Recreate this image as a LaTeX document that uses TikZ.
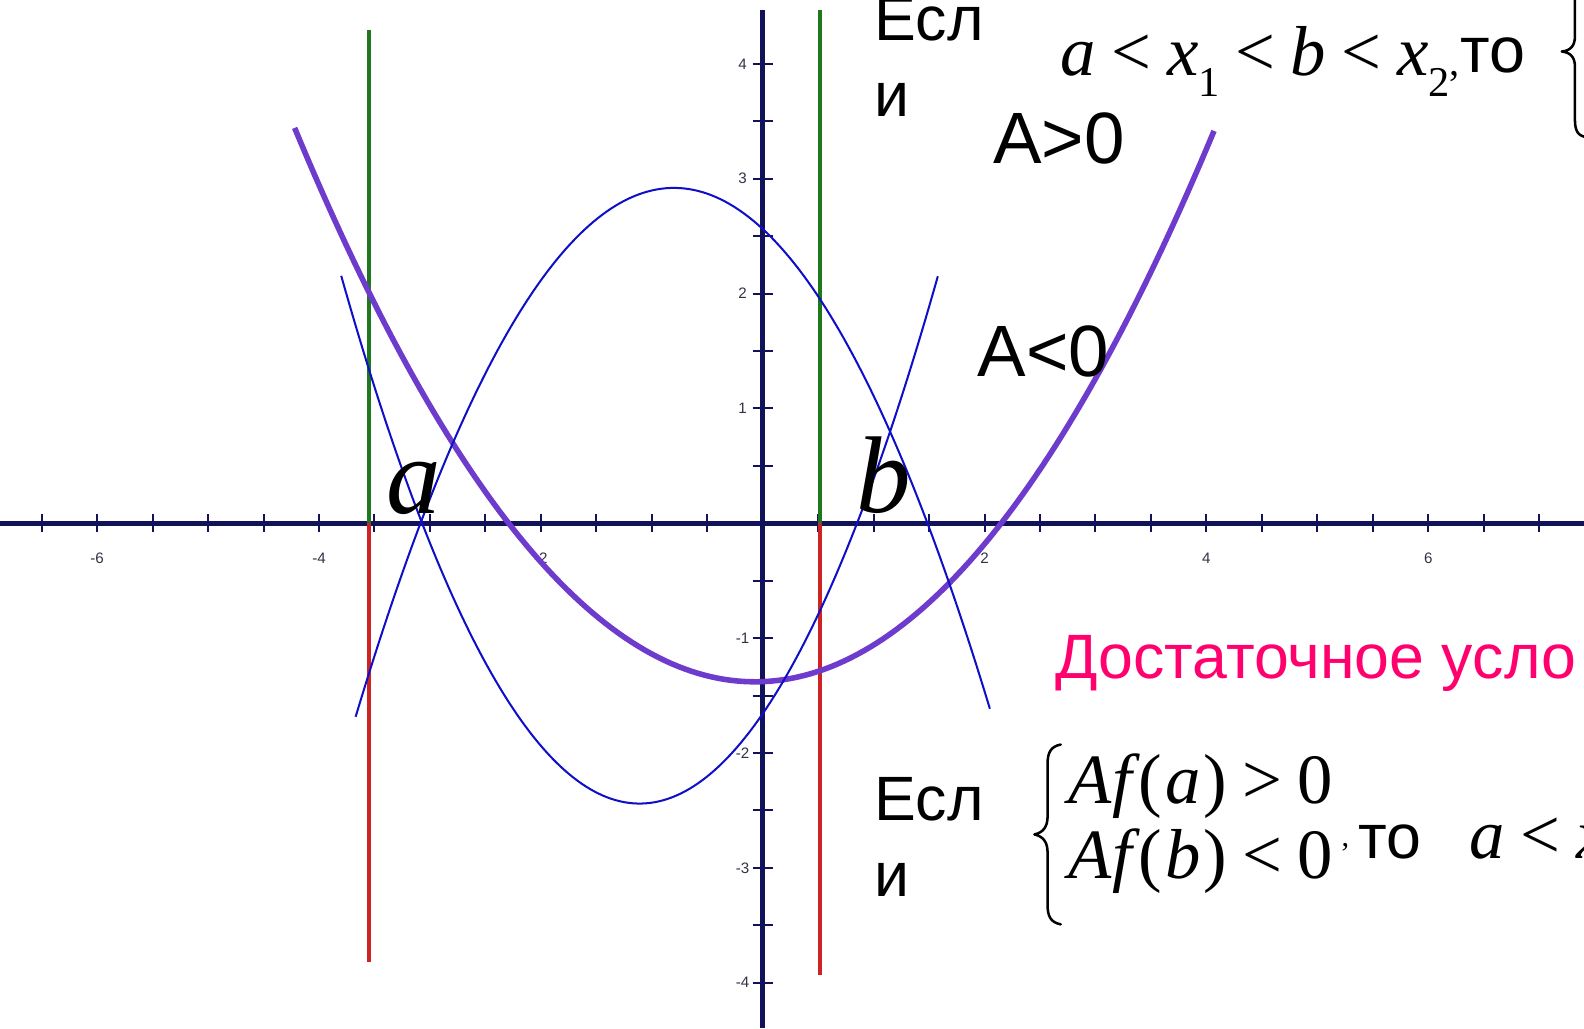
\documentclass[tikz,border=0pt]{standalone}
\usepackage{fontspec}
\setmainfont{Liberation Sans}
\newfontfamily\tnr{Liberation Serif}
\definecolor{axisc}{RGB}{18,18,90}
\definecolor{purp}{RGB}{110,60,205}
\definecolor{bluec}{RGB}{15,15,200}
\definecolor{greenc}{RGB}{30,120,30}
\definecolor{redc}{RGB}{205,35,35}
\definecolor{pinkc}{RGB}{255,0,110}
\definecolor{tickc}{RGB}{50,50,70}
\newcommand{\rel}[1]{\hspace{0.22em}{\upshape #1}\hspace{0.22em}}
\newcommand{\sbx}[1]{\raisebox{-0.3em}{\fontsize{42}{42}\selectfont\upshape #1}}
\begin{document}
\begin{tikzpicture}[x=1pt,y=-1pt,
  every node/.style={inner sep=0pt,outer sep=0pt},
  axisline/.style={draw=axisc,line width=5pt},
  tickline/.style={draw=axisc,line width=2pt},
  ticklab/.style={text=tickc,font={\fontsize{15}{15}\selectfont}},
  vgreen/.style={draw=greenc,line width=4pt},
  vred/.style={draw=redc,line width=4pt},
  purpcurve/.style={draw=purp,line width=5.5pt},
  bluecurve/.style={draw=bluec,line width=2pt},
  txt/.style={anchor=base west,font={\fontsize{62}{70}\selectfont}},
  bigtxt/.style={anchor=base west,font={\fontsize{72}{80}\selectfont}},
  frm/.style={anchor=base west,font={\tnr\fontsize{70}{80}\selectfont}},
  ablab/.style={anchor=base west,font={\tnr\itshape\fontsize{108}{110}\selectfont}},
  bracepath/.style={draw=black,line width=2.5pt,line cap=round,line join=round}]
\useasboundingbox (0,0) rectangle (1568,1018);
\clip (0,0) rectangle (1568,1018);
% axes
\coordinate (xl) at (0,518);
\coordinate (xr) at (1568,518);
\coordinate (yt) at (755,10);
\coordinate (yb) at (755,1018);
\draw[axisline] (xl) -- (xr);
\draw[axisline] (yt) -- (yb);
% ticks
\foreach \i in {-13,...,14}{
  \coordinate (xt\i a) at ({755+\i*54.9},509);
  \coordinate (xt\i b) at ({755+\i*54.9},527);
  \draw[tickline] (xt\i a) -- (xt\i b);
}
\foreach \j in {-8,...,8}{
  \coordinate (yt\j a) at (745,{518-\j*56.85});
  \coordinate (yt\j b) at (765,{518-\j*56.85});
  \draw[tickline] (yt\j a) -- (yt\j b);
}
\foreach \v in {-6,-4,-2,2,4,6}
  \node[ticklab] (xlab\v) at ({755+\v*109.8},553) {\v};
\foreach \v in {4,3,2,1,-1,-2,-3,-4}
  \node[ticklab] (ylab\v) at (735,{518-\v*113.7}) {\v};
% vertical lines at a and b
\coordinate (ga) at (365,30);
\coordinate (a0) at (365,518);
\coordinate (ra) at (365,952);
\coordinate (gb) at (812,10);
\coordinate (b0) at (812,518);
\coordinate (rb) at (812,965);
\draw[vgreen] (ga) -- (a0);
\draw[vred] (a0) -- (ra);
\draw[vgreen] (gb) -- (b0);
\draw[vred] (b0) -- (rb);
% curves
\begin{scope}[shift={(755pt,-518pt)},x=109.8pt,y=113.7pt]
\draw[purpcurve] plot[domain=-4.22:4.07,samples=140] (\x,{0.28*(\x+0.07)^2-1.38});
\draw[bluecurve] plot[domain=-3.67:2.05,samples=140] (\x,{-0.559*(\x+0.80)^2+2.92});
\draw[bluecurve] plot[domain=-3.80:1.58,samples=140] (\x,{0.635*(\x+1.11)^2-2.44});
\end{scope}
% labels a, b
\node[ablab] (la) at (383,508) {a};
\node[ablab] (lb) at (848,507) {b};
% top texts
\node[txt] (esl1) at (866,40) {Есл};
\node[txt] (i1) at (866,115) {и};
\node[frm] (f1) at (1050,75) {\itshape a\rel{<}x\sbx{1}\rel{<}b\rel{<}x\sbx{2}\upshape\fontsize{40}{40}\selectfont ,};
\node[txt,font={\fontsize{64}{70}\selectfont}] (to1) at (1446,72) {то};
\draw[bracepath] (1575,-30) .. controls (1562,-30) and (1559,-22) .. (1559,-8) -- (1559,36)
  .. controls (1559,45) and (1555,50) .. (1546,51)
  .. controls (1555,52) and (1559,57) .. (1559,66) -- (1559,118)
  .. controls (1559,130) and (1562,135) .. (1572,136);
\node[bigtxt] (apos) at (983,162) {A>0};
\node[bigtxt] (aneg) at (968,373) {A<0};
% pink text
\node[txt,text=pinkc] (dost) at (1045,672) {Достаточное усло};
% bottom texts
\node[txt] (esl2) at (866,812) {Есл};
\node[txt] (i2) at (866,887) {и};
\draw[bracepath] (1050,737) .. controls (1040,739) and (1037,745) .. (1037,756) -- (1037,808)
  .. controls (1037,818) and (1033,824) .. (1024,826)
  .. controls (1033,828) and (1037,834) .. (1037,844) -- (1037,896)
  .. controls (1037,907) and (1040,913) .. (1050,915);
\node[frm] (f2) at (1058,795) {\itshape Af\hspace{0.1em}\upshape(\hspace{0.04em}\itshape a\hspace{0.04em}\upshape)\rel{>}0};
\node[frm] (f3) at (1058,870) {\itshape Af\hspace{0.1em}\upshape(\hspace{0.04em}\itshape b\hspace{0.04em}\upshape)\rel{<}0};
\node[anchor=base west,font={\tnr\fontsize{30}{30}\selectfont}] (cm2) at (1328,838) {,};
\node[txt] (to2) at (1345,850) {то};
\node[frm] (f4) at (1455,850) {\itshape a\rel{<}x};
\end{tikzpicture}
\end{document}
